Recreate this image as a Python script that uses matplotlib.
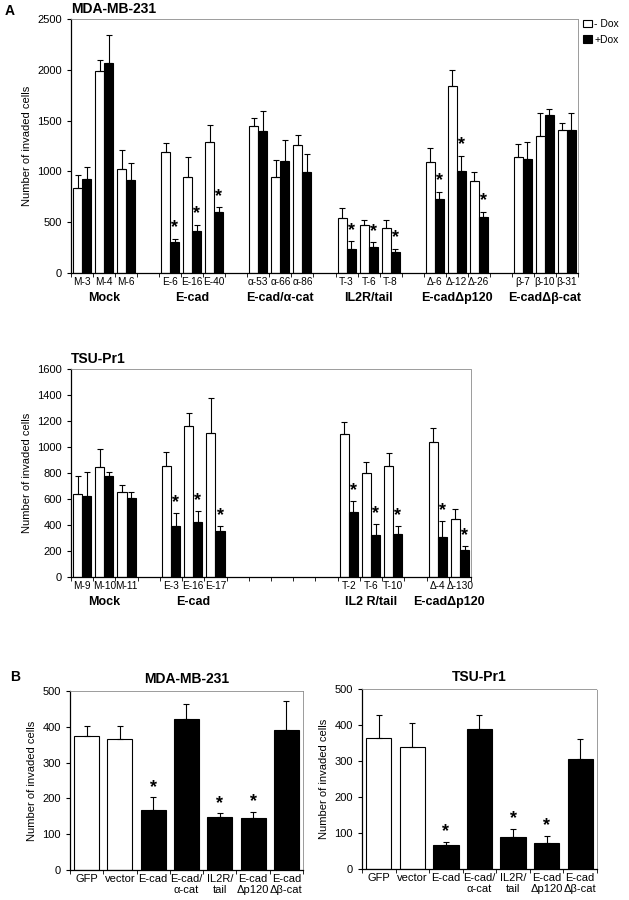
import numpy as np
import matplotlib
matplotlib.use("Agg")
import matplotlib.pyplot as plt

plt.rcParams['font.family'] = ['Liberation Sans', 'DejaVu Sans']
plt.rcParams['font.size'] = 8

# ---- panel A, MDA-MB-231 ----
mda_groups = ["Mock", "E-cad", "E-cad/\u03b1-cat", "IL2R/tail", "E-cad\u0394p120", "E-cad\u0394\u03b2-cat"]
mda_clones = ["M-3", "M-4", "M-6", "E-6", "E-16", "E-40",
              "\u03b1-53", "\u03b1-66", "\u03b1-86", "T-3", "T-6", "T-8",
              "\u0394-6", "\u0394-12", "\u0394-26", "\u03b2-7", "\u03b2-10", "\u03b2-31"]
mda_minus = [840, 1985, 1020, 1195, 945, 1285, 1450, 940, 1255, 542, 470, 440, 1097, 1843, 903, 1146, 1347, 1409]
mda_minus_err = [120, 110, 190, 80, 195, 175, 75, 170, 100, 99, 49, 79, 135, 158, 86, 119, 230, 63]
mda_plus = [925, 2070, 920, 300, 410, 600, 1395, 1100, 990, 240, 260, 204, 729, 1005, 549, 1117, 1551, 1409]
mda_plus_err = [115, 270, 160, 35, 60, 45, 195, 210, 180, 72, 42, 36, 69, 148, 49, 168, 59, 168]
mda_star = [0, 0, 0, 1, 1, 1, 0, 0, 0, 1, 1, 1, 1, 1, 1, 0, 0, 0]

# ---- panel A, TSU-Pr1 ----
tsu_groups = ["Mock", "E-cad", "IL2 R/tail", "E-cad\u0394p120"]
tsu_group_start = [0, 4, 12, 16]
tsu_group_size = [3, 3, 3, 2]
tsu_clones = ["M-9", "M-10", "M-11", "E-3", "E-16", "E-17", "T-2", "T-6", "T-10", "\u0394-4", "\u0394-130"]
tsu_minus = [640, 845, 655, 850, 1165, 1110, 1098, 799, 855, 1037, 445]
tsu_minus_err = [135, 140, 50, 110, 100, 265, 92, 89, 102, 107, 75]
tsu_plus = [625, 780, 605, 395, 420, 355, 502, 325, 333, 310, 210]
tsu_plus_err = [180, 30, 50, 100, 85, 35, 82, 79, 56, 123, 28]
tsu_star = [0, 0, 0, 1, 1, 1, 1, 1, 1, 1, 1]

# ---- panel B ----
b_labels = ["GFP", "vector", "E-cad", "E-cad/\n\u03b1-cat", "IL2R/\ntail", "E-cad\n\u0394p120", "E-cad\n\u0394\u03b2-cat"]
b_filled = [0, 0, 1, 1, 1, 1, 1]
b_mda = [375, 365, 169, 423, 147, 145, 392]
b_mda_err = [26, 36, 34, 42, 11, 18, 80]
b_mda_star = [0, 0, 1, 0, 1, 1, 0]
b_tsu = [364, 338, 66, 389, 89, 71, 307]
b_tsu_err = [64, 68, 9, 38, 22, 22, 54]
b_tsu_star = [0, 0, 1, 0, 1, 1, 0]


def style_axes(ax, xlab=8):
    for s in ['top', 'right']:
        ax.spines[s].set_color('0.55')
        ax.spines[s].set_linestyle((0, (2, 1)))
        ax.spines[s].set_linewidth(0.6)
    for s in ['left', 'bottom']:
        ax.spines[s].set_linewidth(0.9)
    ax.tick_params(axis='y', direction='out', length=3, width=0.8, labelsize=8)
    ax.tick_params(axis='x', which='major', length=0, labelsize=xlab, pad=3)
    ax.tick_params(axis='x', which='minor', direction='out', length=3, width=0.6)


def paired_panel(ax, pos, minus, minus_err, plus, plus_err, star, clones, nslots, ymax, ystep, staroff):
    pos = np.array(pos, dtype=float)
    w = 0.41
    b1 = ax.bar(pos - w / 2, minus, w, color='white', edgecolor='black', linewidth=0.8,
                yerr=[np.zeros(len(minus)), minus_err], capsize=2.2,
                error_kw=dict(elinewidth=0.8, capthick=0.8, ecolor='black'))
    b2 = ax.bar(pos + w / 2, plus, w, color='black', edgecolor='black', linewidth=0.8,
                yerr=[np.zeros(len(plus)), plus_err], capsize=2.2,
                error_kw=dict(elinewidth=0.8, capthick=0.8, ecolor='black'))
    for p, v, e, s in zip(pos, plus, plus_err, star):
        if s:
            ax.text(p + w / 2, v + e + staroff, "*", ha='center', va='center',
                    fontsize=13, fontweight='bold')
    ax.set_xlim(-0.5, nslots - 0.5)
    ax.set_ylim(0, ymax)
    ax.set_yticks(np.arange(0, ymax + 1, ystep))
    ax.set_xticks(pos)
    ax.set_xticklabels(clones)
    ax.set_xticks(np.arange(-0.5, nslots, 1.0), minor=True)
    ax.set_ylabel("Number of invaded cells", fontsize=8)
    style_axes(ax, xlab=7.3)
    return b1, b2


def group_labels(ax, names, centers):
    for n, c in zip(names, centers):
        ax.annotate(n, xy=(c, 0), xycoords=ax.get_xaxis_transform(), xytext=(0, -14),
                    textcoords='offset points', ha='center', va='top',
                    fontsize=9, fontweight='bold')


fig = plt.figure(figsize=(6.29, 9.0), dpi=100)

# top: MDA-MB-231
ax1 = fig.add_axes([0.1129, 0.6967, 0.806, 0.2822])
pos1 = [g * 4 + k for g in range(6) for k in range(3)]
b1, b2 = paired_panel(ax1, pos1, mda_minus, mda_minus_err, mda_plus, mda_plus_err, mda_star,
                      mda_clones, 23, 2500, 500, 110)
group_labels(ax1, mda_groups, [g * 4 + 1 for g in range(6)])
ax1.set_title("MDA-MB-231", loc='left', fontsize=10, fontweight='bold', pad=4)
ax1.legend([b1, b2], ["- Dox", "+Dox"], loc='upper left', bbox_to_anchor=(1.0, 1.02),
           frameon=False, fontsize=7.5, handlelength=0.8, handleheight=0.8, handletextpad=0.25,
           labelspacing=0.55, borderaxespad=0.3, borderpad=0.2)
fig.text(0.008, 0.988, "A", fontsize=10, fontweight='bold', va='center')

# middle: TSU-Pr1
ax2 = fig.add_axes([0.1129, 0.3589, 0.636, 0.2311])
pos2 = [s + k for s, n in zip(tsu_group_start, tsu_group_size) for k in range(n)]
paired_panel(ax2, pos2, tsu_minus, tsu_minus_err, tsu_plus, tsu_plus_err, tsu_star,
             tsu_clones, 18, 1600, 200, 80)
group_labels(ax2, tsu_groups, [s + (n - 1) / 2 for s, n in zip(tsu_group_start, tsu_group_size)])
ax2.set_title("TSU-Pr1", loc='left', fontsize=10, fontweight='bold', pad=4)


def single_panel(ax, vals, errs, stars, title):
    x = np.arange(len(vals))
    cols = ['black' if f else 'white' for f in b_filled]
    ax.bar(x, vals, 0.75, color=cols, edgecolor='black', linewidth=0.8,
           yerr=[np.zeros(len(vals)), errs], capsize=2.5,
           error_kw=dict(elinewidth=0.8, capthick=0.8, ecolor='black'))
    for xi, v, e, s in zip(x, vals, errs, stars):
        if s:
            ax.text(xi, v + e + 28, "*", ha='center', va='center', fontsize=13, fontweight='bold')
    ax.set_xlim(-0.5, len(vals) - 0.5)
    ax.set_ylim(0, 500)
    ax.set_yticks(np.arange(0, 501, 100))
    ax.set_xticks(x)
    ax.set_xticklabels(b_labels, va='top', linespacing=1.15)
    ax.set_xticks(np.arange(-0.5, len(vals), 1.0), minor=True)
    ax.set_ylabel("Number of invaded cells", fontsize=8)
    ax.set_title(title, fontsize=10, fontweight='bold', pad=6)
    style_axes(ax)


ax3 = fig.add_axes([0.1113, 0.0333, 0.3704, 0.1989])
single_panel(ax3, b_mda, b_mda_err, b_mda_star, "MDA-MB-231")
ax4 = fig.add_axes([0.5755, 0.0344, 0.3736, 0.2])
single_panel(ax4, b_tsu, b_tsu_err, b_tsu_star, "TSU-Pr1")
fig.text(0.016, 0.248, "B", fontsize=10, fontweight='bold', va='center')

fig.savefig("out.png", dpi=100)
